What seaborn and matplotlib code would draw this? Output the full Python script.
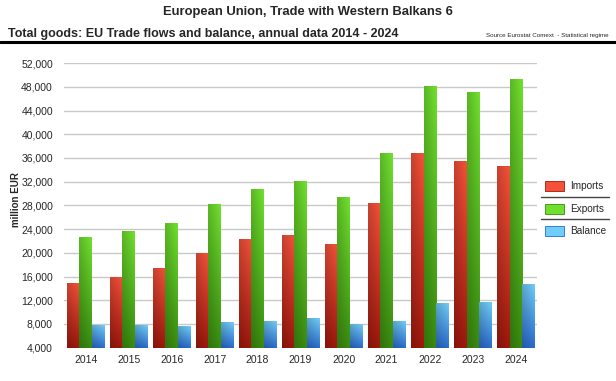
import matplotlib
matplotlib.use('Agg')
import matplotlib.pyplot as plt
import matplotlib.patches as mpatches
from matplotlib.lines import Line2D
from matplotlib.colors import to_rgb
import numpy as np
import pandas as pd
import seaborn as sns

# Data (million EUR)
years = ['2014', '2015', '2016', '2017', '2018', '2019', '2020', '2021', '2022', '2023', '2024']
imports = [14950, 16000, 17500, 19950, 22400, 23050, 21500, 28350, 36850, 35550, 34650]
exports = [22650, 23650, 25050, 28200, 30800, 32100, 29400, 36850, 48150, 47150, 49300]
balance = [7800, 7750, 7600, 8350, 8500, 9050, 7950, 8550, 11500, 11700, 14700]

flows = ['Imports', 'Exports', 'Balance']
# (top colour, bottom colour) of each gradient
grad = {
    'Imports': ('#f5513a', '#a0180d'),
    'Exports': ('#70e02e', '#3a8c10'),
    'Balance': ('#70ccf8', '#2a6cce'),
}

df = pd.DataFrame({'year': years, 'Imports': imports, 'Exports': exports, 'Balance': balance})
df_long = df.melt(id_vars='year', var_name='flow', value_name='value')

sns.set_theme(style='white')
plt.rcParams['font.family'] = ['Liberation Sans', 'DejaVu Sans']

fig = plt.figure(figsize=(6.16, 3.81), dpi=100)
ax = fig.add_axes([0.104, 0.0874, 0.768, 0.747])

sns.barplot(data=df_long, x='year', y='value', hue='flow', hue_order=flows,
            palette=[grad[f][1] for f in flows], width=0.855, gap=0,
            ax=ax, legend=False, linewidth=0, zorder=2)


def gradient_img(top, bottom, n=64):
    t = np.linspace(0, 1, n)[:, None]
    c = np.array(to_rgb(top)) * (1 - t[..., None]) + np.array(to_rgb(bottom)) * t[..., None]
    c = np.repeat(c, 16, axis=1)
    # slight darkening towards the left edge
    shade = np.linspace(0.82, 1.0, 16)[None, :, None]
    return np.clip(c * shade, 0, 1)


ymin, ymax = 4000, 52000
for i, flow in enumerate(flows):
    for bar in ax.containers[i]:
        x0 = bar.get_x()
        w = bar.get_width()
        h = bar.get_height()
        img = gradient_img(*grad[flow])
        im = ax.imshow(img, extent=(x0, x0 + w, ymin, h), aspect='auto', zorder=3,
                       interpolation='bilinear')
        im.set_clip_path(bar)

ax.set_xlim(-0.5, len(years) - 0.5)
ax.set_ylim(ymin, ymax)
ax.set_yticks(np.arange(4000, 52001, 4000))
ax.set_yticklabels([f'{v:,}' for v in range(4000, 52001, 4000)], fontsize=7.5)
ax.tick_params(axis='x', labelsize=7.5, pad=5, length=0)
ax.tick_params(axis='y', pad=8, length=0)
ax.grid(axis='y', color='#c9c9c9', linewidth=1, zorder=0)
ax.set_axisbelow(True)
for s in ax.spines.values():
    s.set_visible(False)
ax.set_xlabel('')
ax.set_ylabel('million EUR', fontsize=7, fontweight='bold')
ax.yaxis.set_label_coords(-0.092, 0.52)

# Titles and rule
fig.text(0.5, 0.968, 'European Union, Trade with Western Balkans 6', ha='center', va='center',
         fontsize=9.4, fontweight='bold')
fig.text(0.013, 0.911, 'Total goods: EU Trade flows and balance, annual data 2014 - 2024',
         ha='left', va='center', fontsize=9, fontweight='bold')
fig.text(0.988, 0.908, 'Source Eurostat Comext  - Statistical regime', ha='right', va='center',
         fontsize=4.5)
fig.add_artist(Line2D([0, 1], [0.891, 0.891], color='black', linewidth=2.2))

# Legend at right, drawn by hand to match the separators
leg_y = [0.5126, 0.4507, 0.3945]
for f, yy in zip(flows, leg_y):
    fig.add_artist(mpatches.Rectangle((0.885, yy - 0.013), 0.031, 0.026,
                                      facecolor=grad[f][0], edgecolor=grad[f][1],
                                      linewidth=0.6, transform=fig.transFigure))
    fig.text(0.925, yy, f, ha='left', va='center', fontsize=7.2)
for yy in [0.482, 0.426]:
    fig.add_artist(Line2D([0.879, 0.989], [yy, yy], color='#444444', linewidth=1))

fig.savefig('out.png', dpi=100)
